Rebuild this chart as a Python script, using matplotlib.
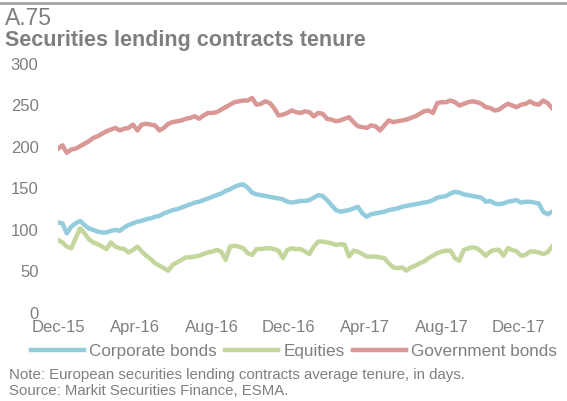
import matplotlib
matplotlib.use('Agg')
import matplotlib.pyplot as plt
import matplotlib.dates as mdates
import pandas as pd

plt.rcParams['font.family'] = ['Liberation Sans', 'DejaVu Sans']

# weekly readings, Dec-15 to Jan-18
dates = pd.date_range('2015-12-01', periods=113, freq='7D')

corporate = [109, 108, 96, 104, 108, 111, 106, 102, 100, 98,
             97, 97, 99, 100, 99, 103, 106, 108, 110, 111,
             113, 114, 116, 117, 120, 122, 124, 125, 127, 129,
             131, 133, 134, 136, 138, 140, 142, 144, 147, 149,
             152, 154, 155, 151, 145, 143, 142, 141, 140, 139,
             138, 137, 134, 133, 134, 135, 135, 136, 139, 142,
             141, 136, 130, 124, 122, 123, 124, 126, 128, 120,
             116, 119, 120, 121, 122, 124, 125, 126, 128, 129,
             130, 131, 132, 133, 134, 136, 139, 140, 141, 144,
             146, 145, 143, 142, 141, 140, 139, 134, 135, 132,
             131, 132, 134, 135, 136, 133, 134, 134, 133, 132,
             122, 119, 122]

equities = [88, 85, 80, 78, 90, 102, 96, 89, 85, 83,
            80, 77, 85, 80, 78, 77, 73, 76, 80, 74,
            69, 65, 60, 57, 54, 51, 58, 61, 64, 67,
            67, 68, 69, 71, 73, 74, 76, 74, 64, 80,
            81, 80, 78, 72, 70, 77, 77, 78, 78, 77,
            75, 66, 76, 78, 77, 77, 74, 71, 80, 86,
            86, 85, 84, 82, 83, 82, 68, 75, 74, 71,
            68, 68, 68, 67, 66, 60, 55, 54, 55, 51,
            55, 57, 60, 62, 66, 69, 72, 74, 75, 75,
            66, 63, 76, 78, 79, 78, 74, 69, 74, 76,
            76, 69, 78, 76, 74, 69, 70, 74, 74, 73,
            71, 73, 80]

government = [198, 202, 193, 197, 198, 201, 204, 207, 211, 213,
              216, 219, 221, 223, 220, 222, 223, 227, 220, 227,
              228, 227, 226, 220, 223, 228, 230, 231, 232, 234,
              235, 237, 234, 238, 241, 241, 242, 245, 248, 251,
              254, 255, 256, 256, 259, 251, 252, 255, 253, 247,
              238, 239, 241, 244, 242, 241, 243, 242, 237, 241,
              240, 234, 233, 231, 232, 234, 236, 230, 225, 224,
              223, 226, 225, 220, 226, 232, 230, 231, 232, 233,
              235, 237, 240, 243, 244, 241, 253, 254, 254, 256,
              254, 250, 252, 254, 255, 254, 252, 248, 247, 244,
              245, 249, 252, 250, 248, 251, 252, 255, 252, 251,
              256, 253, 247]

series_names = ['Corporate bonds', 'Equities', 'Government bonds']
colors = ['#93CDDD', '#C3D69B', '#D99795']
tick_dates = pd.to_datetime(['2015-12-01', '2016-04-01', '2016-08-01', '2016-12-01',
                             '2017-04-01', '2017-08-01', '2017-12-01'])
grey = '#7F7F7F'

fig = plt.figure(figsize=(5.67, 4.01), dpi=100)
ax = fig.add_axes([0.1023, 0.2195, 0.8712, 0.6209])

for vals, name, c in zip([corporate, equities, government], series_names, colors):
    ax.plot(dates, vals, color=c, lw=3.2, label=name, solid_joinstyle='round')

ax.set_xlim(dates[0], dates[-1])
ax.set_ylim(0, 300)
ax.set_yticks(range(0, 301, 50))
ax.set_xticks(tick_dates)
ax.xaxis.set_major_formatter(mdates.DateFormatter('%b-%y'))
ax.tick_params(axis='both', length=0, colors=grey, labelsize=12)
ax.tick_params(axis='y', pad=14)
ax.tick_params(axis='x', pad=5)
for s in ax.spines.values():
    s.set_visible(False)

ax.legend(loc='upper left', bbox_to_anchor=(-0.055, -0.125), ncol=3, frameon=False,
          fontsize=12.3, labelcolor=grey, handlelength=3.1, handletextpad=0.3,
          columnspacing=0.5, borderaxespad=0, borderpad=0)

fig.add_artist(plt.Line2D([0, 1], [0.992, 0.992], color='#A6A6A6', lw=2))
fig.text(0.009, 0.955, 'A.75', fontsize=16.5, color=grey, va='center')
fig.text(0.009, 0.898, 'Securities lending contracts tenure', fontsize=15.5,
         fontweight='bold', color=grey, va='center')
fig.text(0.016, 0.064, 'Note: European securities lending contracts average tenure, in days.',
         fontsize=10.8, color=grey, va='center')
fig.text(0.016, 0.025, 'Source: Markit Securities Finance, ESMA.',
         fontsize=10.8, color=grey, va='center')

fig.savefig('out.png', dpi=100)
